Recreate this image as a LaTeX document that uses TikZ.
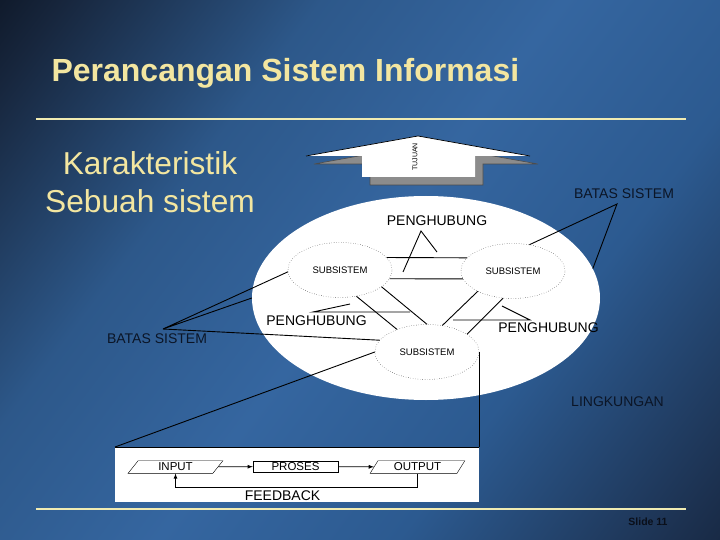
\documentclass[tikz,border=0pt]{standalone}
\usepackage{fontspec}
\setmainfont{Liberation Sans}
\usetikzlibrary{shapes.geometric}
\definecolor{bgdark}{HTML}{02040A}
\definecolor{bgdeep}{HTML}{17263D}
\definecolor{bgmid}{HTML}{2D588A}
\definecolor{bgblue}{HTML}{3566A0}
\definecolor{bgfade}{HTML}{2C5A90}
\definecolor{bgdusk}{HTML}{1C3150}
\definecolor{bgnavy}{HTML}{0D1526}
\definecolor{titleyellow}{HTML}{F3E6A0}
\definecolor{lineyellow}{HTML}{F0EBB2}
\definecolor{labelnavy}{HTML}{0B1526}
\definecolor{tujshadow}{HTML}{8C8C8C}
\definecolor{slidetxt}{HTML}{0A0F1A}
\pgfdeclarehorizontalshading{slidebg}{100bp}{color(0bp)=(bgdark); color(7bp)=(bgdark); color(19bp)=(bgdeep); color(35bp)=(bgmid); color(50bp)=(bgblue); color(65bp)=(bgfade); color(82bp)=(bgdusk); color(94bp)=(bgnavy); color(100bp)=(bgnavy)}

\begin{document}
\begin{tikzpicture}[x=1pt,y=-1pt]
            \tikzstyle{subell}=[ellipse, draw, dotted, minimum width=104, minimum height=55, inner sep=0pt, font=\fontsize{9.5}{11}\selectfont];
            \tikzstyle{inlbl}=[inner sep=0pt, font=\fontsize{14}{16}\selectfont];
            \tikzstyle{outlbl}=[inner sep=0pt, text=labelnavy, font=\fontsize{14}{16}\selectfont];
            \tikzstyle{conn}=[line width=0.9pt];
            \tikzstyle{yline}=[draw=lineyellow, line width=2pt];
            \tikzstyle{io}=[trapezium, trapezium left angle=60, trapezium right angle=120, trapezium stretches=true, draw, minimum width=95, minimum height=12.6, inner sep=0pt, font=\fontsize{11.5}{13}\selectfont];
            \tikzstyle{procbox}=[rectangle, draw, minimum width=85, minimum height=11.5, inner sep=0pt, font=\fontsize{11.5}{13}\selectfont];
            \shade[shading=slidebg, shading angle=-37] (0,0) rectangle (720,540);
            \useasboundingbox (0,0) rectangle (720,540);
            \node[anchor=base west, text=titleyellow, font=\fontsize{32}{38}\selectfont\bfseries] (title) at (48,82) {Perancangan Sistem Informasi};
            \draw[yline] (36,119) -- (686,119);
            \draw[yline] (36,509) -- (686,509);
            \node[align=center, text=titleyellow, font=\fontsize{31.7}{38}\selectfont] (karak) at (150,182) {Karakteristik\\Sebuah sistem};
            \filldraw[fill=tujshadow, draw=black!70, line width=0.6pt] (314,164) -- (426,144) -- (538,164) -- (483,164) -- (483,185) -- (370,185) -- (370,164) -- cycle;
            \fill[white] (306,156) -- (418,136) -- (530,156) -- (475,156) -- (475,177) -- (362,177) -- (362,156) -- cycle;
            \draw[line width=0.7pt] (306,156) -- (418,136) -- (530,156);
            \node[rotate=90, inner sep=0pt, font=\fontsize{7}{8}\selectfont] (tujuan) at (415,157) {TUJUAN};
            \node[ellipse, fill=white, minimum width=348, minimum height=204, inner sep=0pt] (sys) at (426,298) {};
            \node[subell] (subA) at (340,270) {SUBSISTEM};
            \node[subell] (subB) at (513,271) {SUBSISTEM};
            \node[subell] (subC) at (427,352) {SUBSISTEM};
            \draw[conn] (subA.15) -- (subB.164);
            \draw[conn] (subA.-10) -- (subB.-171);
            \draw[conn] (subA.-58) -- (subC.143);
            \draw[conn] (subA.-22) -- (subC.90);
            \draw[conn] (subB.-150) -- (subC.60);
            \draw[conn] (subB.-110) -- (subC.24);
            \node[inlbl] (phA) at (437,221) {PENGHUBUNG};
            \node[inlbl] (phB) at (316.5,321) {PENGHUBUNG};
            \node[inlbl] (phC) at (548.5,328) {PENGHUBUNG};
            \coordinate (phAtip) at (421,231);
            \coordinate (phAa) at (403,272);
            \coordinate (phAb) at (437,252);
            \draw[conn] (phAa) -- (phAtip) -- (phAb);
            \coordinate (phBtip) at (313,312);
            \coordinate (phBa) at (350,304);
            \coordinate (phBb) at (410,312);
            \draw[conn] (phBa) -- (phBtip) -- (phBb);
            \coordinate (phCtip) at (530,320);
            \coordinate (phCa) at (502,306);
            \coordinate (phCb) at (453,320);
            \draw[conn] (phCa) -- (phCtip) -- (phCb);
            \node[outlbl] (bsA) at (624,194) {BATAS SISTEM};
            \node[outlbl] (bsB) at (157,339) {BATAS SISTEM};
            \node[outlbl] (lingk) at (617.5,402) {LINGKUNGAN};
            \coordinate (bsAtip) at (617,204);
            \draw[conn] (subB.58) -- (bsAtip) -- (sys.10);
            \coordinate (bsBtip) at (163,329);
            \draw[conn] (subA.182) -- (bsBtip) -- (sys.west);
            \draw[conn] (bsBtip) -- (subC.166);
            \node[fill=white, minimum width=364, minimum height=55, inner sep=0pt, anchor=north west] (env) at (115,447) {};
            \draw[conn] (env.north west) -- (env.north east);
            \draw[conn] (env.north west) -- (subC.west);
            \draw[conn] (subC.east) -- (subC.east |- env.north);
            \node[io] (inp) at (175.5,467) {INPUT};
            \node[procbox] (pros) at (295.5,466.5) {PROSES};
            \node[io] (outp) at (417.5,467) {OUTPUT};
            \draw[line width=0.8pt, -latex] (inp) -- (pros);
            \draw[line width=0.8pt, -latex] (pros) -- (outp);
            \draw[line width=0.8pt, -latex] (outp.south) -- ++(0,14) -| (inp.south);
            \node[inlbl] (fb) at (282.5,496) {FEEDBACK};
            \node[inner sep=0pt, text=slidetxt, font=\fontsize{10.5}{12}\selectfont\bfseries] (slno) at (648,522) {Slide 11};
\end{tikzpicture}
\end{document}
